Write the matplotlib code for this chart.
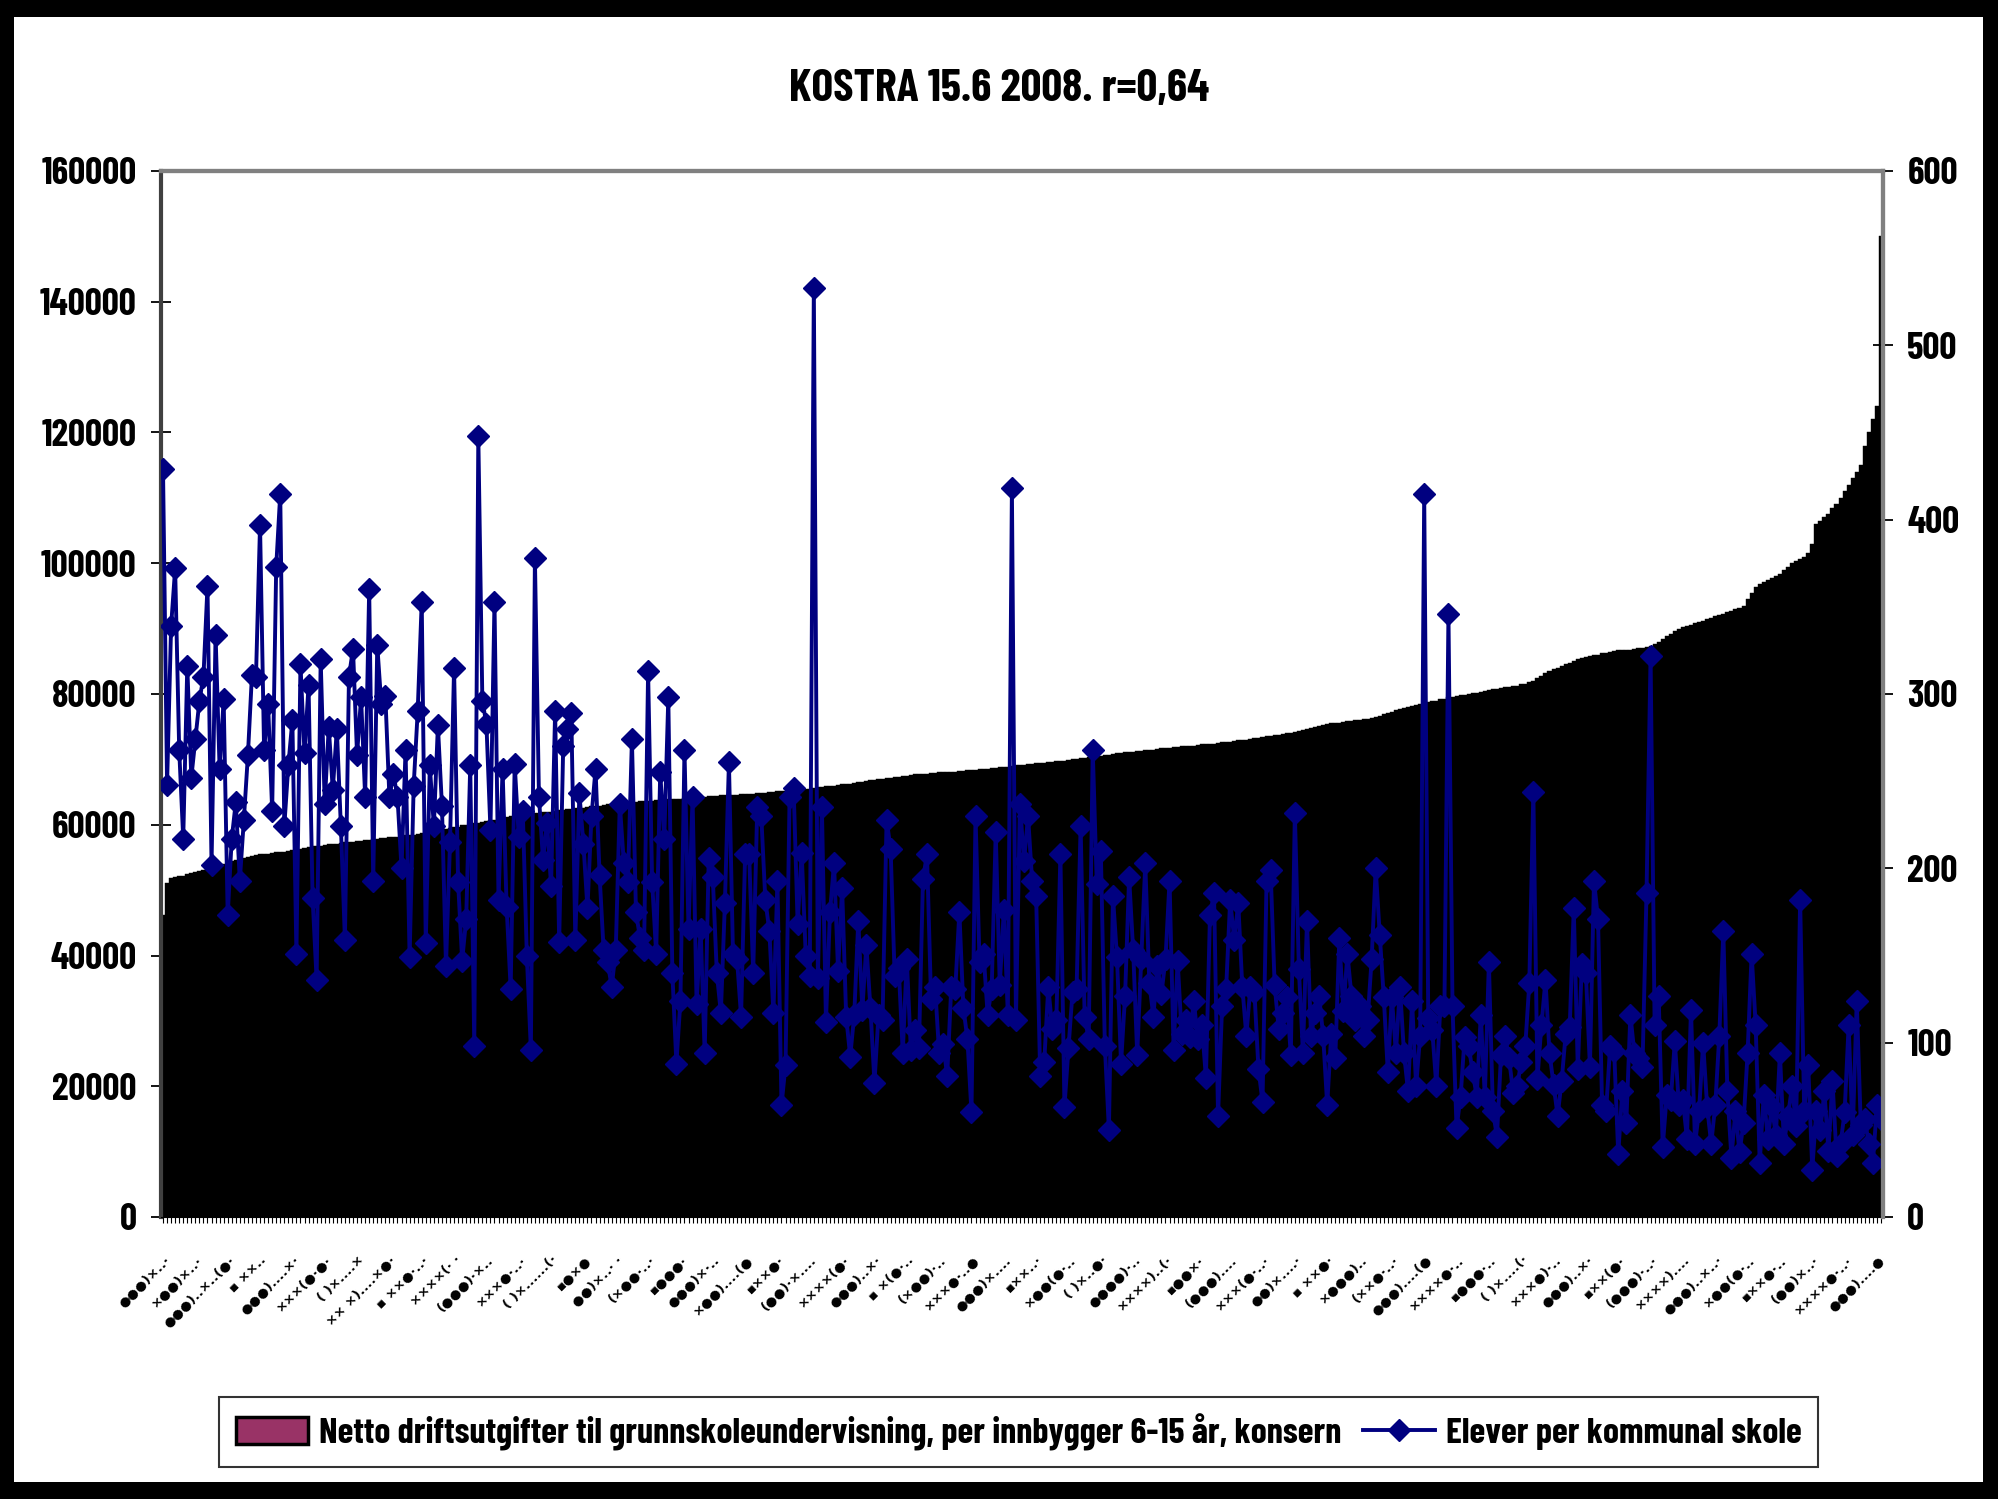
import matplotlib
matplotlib.use("Agg")
import matplotlib.pyplot as plt
from matplotlib.patches import Rectangle, Patch
from matplotlib.lines import Line2D
import numpy as np

# ---------------- data ----------------
title = "KOSTRA 15.6 2008. r=0,64"
bar_label = "Netto driftsutgifter til grunnskoleundervisning, per innbygger 6-15 år, konsern"
line_label = "Elever per kommunal skole"

# Netto driftsutgifter (1000 kr) per kommune, sorted ascending
netto_kkr = [
    46.2, 51.1, 51.9, 52.0, 52.1, 52.2,
    52.5, 52.6, 52.8, 52.9, 53.1, 53.3, 53.5,
    53.7, 53.9, 54.0, 54.2, 54.4, 54.6,
    54.7, 54.9, 55.0, 55.2, 55.4,
    55.5, 55.6, 55.6, 55.7, 55.8, 55.8, 55.9, 56.0,
    56.1, 56.2, 56.3, 56.5, 56.6,
    56.7, 56.7, 56.8, 56.9, 57.0, 57.0, 57.1, 57.2,
    57.3, 57.3, 57.4, 57.5, 57.5, 57.6, 57.7, 57.8, 57.8, 57.9, 58.0,
    58.1, 58.2, 58.2, 58.3, 58.4, 58.5, 58.5, 58.6, 58.7,
    58.9, 59.0, 59.1, 59.2, 59.3, 59.4, 59.5, 59.6, 59.7,
    59.9, 60.0, 60.1, 60.2, 60.3, 60.4, 60.6, 60.7, 60.8, 60.9, 61.0, 61.2, 61.3,
    61.4, 61.5, 61.5, 61.6, 61.7, 61.8, 61.8, 61.9, 62.0, 62.0, 62.1, 62.2,
    62.3, 62.4, 62.4, 62.5, 62.6, 62.6, 62.7, 62.8, 62.9, 62.9, 63.0, 63.1, 63.2,
    63.3, 63.3, 63.4, 63.4, 63.5, 63.5, 63.6, 63.6, 63.7, 63.7, 63.8, 63.8,
    63.9, 63.9, 64.0, 64.0, 64.0, 64.1, 64.1, 64.2, 64.2, 64.3, 64.3, 64.4, 64.4,
    64.45, 64.5, 64.5, 64.55, 64.6, 64.6, 64.65, 64.7, 64.7, 64.75, 64.8, 64.8,
    64.9, 65.0, 65.0, 65.1, 65.1, 65.2, 65.2, 65.3, 65.3, 65.4, 65.5, 65.5, 65.6,
    65.7, 65.8, 65.9, 65.9, 66.0, 66.1, 66.2, 66.2, 66.3, 66.4, 66.5, 66.6, 66.7,
    66.8, 66.9, 67.0, 67.0, 67.1, 67.2, 67.3, 67.3, 67.4, 67.5, 67.6, 67.7,
    67.8, 67.8, 67.8, 67.9, 67.9, 68.0, 68.0, 68.0, 68.1, 68.1, 68.2, 68.2, 68.3,
    68.4, 68.4, 68.5, 68.5, 68.6, 68.7, 68.7, 68.8, 68.9, 68.9, 69.0, 69.1,
    69.2, 69.2, 69.3, 69.3, 69.4, 69.5, 69.5, 69.6, 69.6, 69.7, 69.8, 69.8, 69.9,
    70.0, 70.1, 70.2, 70.2, 70.3, 70.4, 70.5, 70.5, 70.6, 70.7, 70.8, 70.9, 71.0,
    71.1, 71.1, 71.2, 71.3, 71.3, 71.4, 71.5, 71.5, 71.6, 71.7, 71.7, 71.8,
    71.9, 71.9, 72.0, 72.0, 72.1, 72.1, 72.2, 72.3, 72.3, 72.4, 72.4, 72.5, 72.6,
    72.7, 72.7, 72.8, 72.9, 73.0, 73.0, 73.1, 73.2, 73.3, 73.4, 73.5, 73.6,
    73.7, 73.8, 73.9, 74.0, 74.1, 74.2, 74.4, 74.5, 74.6, 74.8, 74.9, 75.1, 75.3,
    75.4, 75.5, 75.6, 75.6, 75.7, 75.8, 75.9, 76.0, 76.0, 76.1, 76.2, 76.3, 76.5,
    76.7, 76.9, 77.1, 77.3, 77.5, 77.7, 77.8, 78.0, 78.2,
    78.3, 78.5, 78.6, 78.8, 78.9, 79.0, 79.2, 79.3, 79.5, 79.6,
    79.7, 79.8, 79.9, 80.0, 80.1, 80.2, 80.3, 80.5, 80.6,
    80.7, 80.8, 80.9, 81.0, 81.1, 81.2, 81.3, 81.5, 81.6, 81.8,
    82.0, 82.4, 82.8, 83.2, 83.5, 83.9,
    84.0, 84.3, 84.6, 84.8, 85.0, 85.3,
    85.5, 85.6, 85.8, 85.9, 86.0, 86.2, 86.3, 86.5, 86.6,
    86.7, 86.7, 86.8, 86.8, 86.9, 87.0, 87.1, 87.2, 87.4, 87.6,
    88.0, 88.4, 88.8, 89.2, 89.6, 90.0,
    90.2, 90.4, 90.6, 90.8, 91.0, 91.2, 91.4, 91.6, 91.9, 92.1,
    92.3, 92.5, 92.7, 93.0, 93.2, 93.5,
    94.5, 95.5, 96.4,
    96.8, 97.1, 97.4, 97.7, 98.0, 98.3,
    99.0, 99.5, 100.0, 100.4, 100.7, 101.0,
    101.5, 103.0, 106.0,
    106.5, 107.0, 107.5, 108.5,
    109.0, 110.0, 111.0, 112.0,
    113.0, 114.0, 115.0,
    118.0, 120.0, 122.0, 124.0, 150.0,
]

# Elever per kommunal skole, same municipality order
elever = [
    429, 248, 339, 372, 268, 217, 316, 252, 274, 296, 310,
    362, 202, 334, 257, 297, 173, 217, 238, 193, 228, 265,
    311, 310, 397, 268, 294, 233, 373, 415, 224, 259,
    285, 151, 317, 266, 305, 183, 136, 320, 237, 281, 245,
    280, 224, 159, 310, 326, 265, 298, 241, 360, 193,
    328, 294, 299, 241, 254, 241, 200, 268, 149, 247, 290,
    353, 157, 259, 224, 282, 236, 144, 215, 315, 192,
    147, 171, 259, 98,
    448, 296, 283, 222, 353, 182,
    257, 178, 131, 260, 218, 233, 150, 96, 378, 241, 205,
    226,
    190, 290, 158, 270, 280, 289, 159, 243, 214, 177, 230,
    257, 196, 153, 146, 132, 153, 237, 203, 192, 274,
    175, 160, 153, 313, 192, 151, 255, 217, 298, 140, 88,
    124, 268, 165, 241, 122, 165, 94, 206, 195, 140,
    117, 180, 261, 151, 148, 115, 208, 208, 140, 235, 230,
    182, 164, 117, 193, 64, 87, 241, 246, 168, 209, 150,
    138,
    533, 137, 235, 112, 175, 203, 141, 189, 115,
    92, 116, 170, 119, 156, 120, 77, 116, 113, 228,
    211, 138, 143, 94, 148, 96, 107, 97, 194, 208, 125,
    132, 94, 99, 81, 132, 131, 175, 120, 102, 60,
    230, 146, 151, 116, 131, 221, 133, 176, 116,
    418,
    113, 237, 204, 230, 193, 184, 81, 89, 132, 108,
    113, 208, 63, 97, 129, 131, 224, 115,
    102, 268, 191, 210, 98, 50, 184, 149, 88, 127,
    195, 153, 93, 148, 203, 134, 115, 144, 128, 148,
    193, 96, 147, 105, 113, 103, 124, 102, 110, 80,
    173, 186, 58, 121, 131, 182, 159, 180, 132, 104,
    132, 129, 85, 66, 193, 199, 133, 108, 117, 126,
    93, 232, 142, 94, 170, 104, 117, 127, 104, 64,
    105, 91, 160, 118, 151, 127, 113, 121, 104,
    113, 148, 200, 162, 126, 83, 126, 94, 132, 94,
    72, 124, 75, 104,
    415, 114, 107, 75, 121, 121,
    346, 121, 51, 69, 103, 98, 83, 69, 116, 69,
    146, 61, 46, 93, 104, 91, 71, 75, 89, 98,
    134, 244, 79, 110, 136, 94, 76, 58, 78, 105,
    109, 177, 85, 145, 140, 86, 193, 171,
    64, 61, 98, 95, 36, 72, 54, 116, 94,
    91, 86, 186,
    322, 110, 127, 40, 70, 67, 101,
    64, 67, 45, 119, 42, 61, 100, 63,
    42, 64, 104, 164, 72, 34, 61, 37, 54, 94,
    151, 110, 31, 70, 45, 63, 47, 94, 42,
    58, 75, 52, 182, 61, 87, 27, 61, 50, 72,
    38, 78, 35, 42, 60, 110, 47, 124, 53,
    56, 42, 31, 64, 56,
]

left_ticks = [0, 20000, 40000, 60000, 80000, 100000, 120000, 140000, 160000]
right_ticks = [0, 100, 200, 300, 400, 500, 600]

# municipality names as they appear (rendered in a symbol font, unreadable)
tick_labels = [
    "●●●)×..·", "×●●)×..·", "●●●)..×..(●·", "▪ ××..", "●●●)....×·", "×××(●·●·",
    "( )×....×", "×× ×)....×●·", "▪ ××●·..·", "××××(· ·", "(●●●)·×..", "×××●·..·",
    "( )×......(·", "▪●×●", "●●)×..· ·", "(×●●·..·", "▪●●●·", "●●●)×·..",
    "×●●)....(●", "▪××●·", "(●●)·×....", "××××(●·", "●●●)..×·", "▪ ×(●·..",
    "(×●●)·..", "×××●·..●", "●●●)×....", "▪××..·", "×●●(●·..", "( )×..●·",
    "●●●●)·..", "××××)..(·", "▪●●×·", "(●●●)....", "×××(●·..·", "●●)×....·",
    "▪ ××●·", "×●●●)..", "(××●·..·", "●●●)....(●", "××××●·..", "▪●●●·..",
    "( )×....(·", "×××●)·..", "●●●)..×·", "▪××(●·", "(●●●)·..·", "××××)....",
    "●●●)..×..·", "×●●(●·..", "▪××●·..", "(●●)×..·", "××××●·..·", "●●●)....●",
]
label_step = 8

assert len(netto_kkr) == len(elever), (len(netto_kkr), len(elever))
assert len(tick_labels) == len(range(0, len(elever), label_step))

# ---------------- styling ----------------
FONT = ['Barlow Condensed', 'DejaVu Sans']
plt.rcParams['font.family'] = FONT
plt.rcParams['font.weight'] = 'bold'

W, H = 1999, 1499
fig = plt.figure(figsize=(W / 100, H / 100), dpi=100)
fig.patch.set_facecolor('black')
fig.patches.append(Rectangle((14 / W, 17 / H), (1983 - 14) / W, (1482 - 17) / H,
                             transform=fig.transFigure, facecolor='white',
                             edgecolor='none', zorder=-5))

ax = fig.add_axes([161 / W, 1 - 1217 / H, (1883 - 161) / W, (1217 - 171) / H])
ax.set_facecolor('white')

n = len(netto_kkr)
x = np.arange(n)
bar_vals = np.array(netto_kkr) * 1000
ax.bar(x, bar_vals, width=1.0, color='black', edgecolor='black', linewidth=0.3)
ax.set_xlim(-0.5, n - 0.5)
ax.set_ylim(left_ticks[0], left_ticks[-1])
ax.set_yticks(left_ticks)
ax.set_yticklabels([str(v) for v in left_ticks])
ax.tick_params(axis='y', direction='inout', length=15, width=1.3, labelsize=27,
               pad=10, colors='black')

labels_full = [''] * n
for k, i in enumerate(range(0, n, label_step)):
    labels_full[i] = tick_labels[k]
ax.set_xticks(x)
ax.set_xticklabels(labels_full, rotation=45, ha='right', rotation_mode='anchor',
                   fontsize=9.5, fontweight='bold', family=['DejaVu Sans'])
ax.tick_params(axis='x', direction='out', length=4, width=0.8, pad=22)

for side in ['top', 'right']:
    ax.spines[side].set_color('#808080')
    ax.spines[side].set_linewidth(3)
ax.spines['left'].set_color('#404040')
ax.spines['left'].set_linewidth(3)
ax.spines['bottom'].set_color('black')

ax2 = ax.twinx()
ax2.plot(x, elever, color='#000080', lw=2.8, marker='D', ms=11,
         mfc='#000080', mec='#000080')
ax2.set_ylim(right_ticks[0], right_ticks[-1])
ax2.set_yticks(right_ticks)
ax2.set_yticklabels([str(v) for v in right_ticks])
ax2.tick_params(axis='y', direction='inout', length=15, width=1.3, labelsize=27,
                pad=10, colors='black')
for side in ['top', 'right']:
    ax2.spines[side].set_color('#808080')
    ax2.spines[side].set_linewidth(3)
ax2.spines['left'].set_visible(False)
ax2.spines['bottom'].set_visible(False)

fig.text(0.5, 1 - 89 / H, title, ha='center', va='center', fontsize=33,
         fontweight='bold', color='black')

handles = [
    Patch(facecolor='#993366', edgecolor='black', linewidth=2.5),
    Line2D([], [], color='#000080', lw=2.8, marker='D', ms=11,
           mfc='#000080', mec='#000080'),
]
leg = fig.legend(handles, [bar_label, line_label], loc='center',
                 bbox_to_anchor=((212 + 1825) / 2 / W, 1 - 1432 / H), ncol=2,
                 frameon=True, fancybox=False, edgecolor='black', fontsize=26,
                 handlelength=2.0, handleheight=0.8, columnspacing=0.6,
                 handletextpad=0.3, borderpad=0.45)
leg.get_frame().set_linewidth(1.5)

fig.savefig('out.png', dpi=100, facecolor=fig.get_facecolor())
